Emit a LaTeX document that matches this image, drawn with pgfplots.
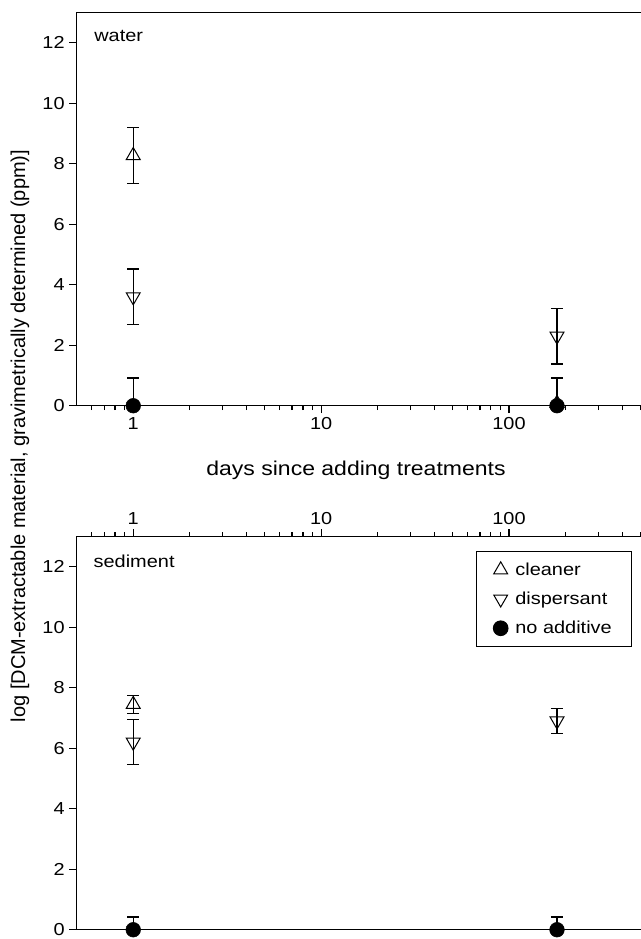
\documentclass[border=0pt]{standalone}
\usepackage{fontspec}
\setmainfont{Liberation Sans}[FakeStretch=1.15]
\newfontfamily\plainsans{Liberation Sans}
\usepackage{pgfplots}
\pgfplotsset{compat=1.18}

\newcommand{\lab}{\fontsize{13pt}{15pt}\selectfont}
\newcommand{\ttl}{\fontsize{15pt}{18pt}\selectfont}

\begin{document}
\begin{tikzpicture}
\useasboundingbox (0,0) rectangle (480pt,-704.25pt);

% water
\begin{axis}[at={(57.5pt,-304.3pt)}, anchor=south west,
  scale only axis, width=465.2pt, height=295pt,
  xmode=log, xmin=0.5, xmax=1000, ymin=0, ymax=13,
  xtick={1,10,100}, xticklabels={1,10,100},
  minor xtick={0.6,0.7,0.8,0.9,2,3,4,5,6,7,8,9,20,30,40,50,60,70,80,90,200,300,400,500,600,700,800,900},
  ytick={0,2,4,6,8,10,12},
  xtick pos=bottom, xticklabel pos=bottom, ytick pos=left,
  tick align=outside, major tick length=5.5pt, minor tick length=3.2pt,
  every tick/.append style={black, line width=0.9pt},
  axis line style={line width=1pt},
  tick label style={font=\lab},
  /pgf/number format/assume math mode=true,
  clip=false]
\addplot[only marks, mark=triangle, mark size=6pt, mark options={line width=0.75pt},
  error bars/.cd, y dir=both, y explicit,
  error bar style={line width=0.9pt},
  error mark options={rotate=90, mark size=4.5pt, line width=0.9pt}]
  coordinates {(1,8.27) +- (0,0.92) (180,0.08) += (0,0.85) -= (0,0)};
\addplot[only marks, mark=triangle, mark size=6pt, mark options={rotate=180, line width=0.75pt},
  error bars/.cd, y dir=both, y explicit,
  error bar style={line width=0.9pt},
  error mark options={rotate=90, mark size=4.5pt, line width=0.9pt}]
  coordinates {(1,3.6) +- (0,0.92) (180,2.3) +- (0,0.92)};
\addplot[only marks, mark=*, mark size=5.5pt, mark options={fill=black},
  error bars/.cd, y dir=plus, y explicit,
  error bar style={line width=0.9pt},
  error mark options={rotate=90, mark size=4.5pt, line width=0.9pt}]
  coordinates {(1,0) +- (0,0.92) (180,0) +- (0,0.90)};
\node[anchor=west, inner sep=0pt, font=\lab] at (rel axis cs:0.028,0.941) {water};
\end{axis}

% sediment
\begin{axis}[at={(57.5pt,-697.3pt)}, anchor=south west,
  scale only axis, width=465.2pt, height=295pt,
  xmode=log, xmin=0.5, xmax=1000, ymin=0, ymax=13,
  xtick={1,10,100}, xticklabels={1,10,100},
  minor xtick={0.6,0.7,0.8,0.9,2,3,4,5,6,7,8,9,20,30,40,50,60,70,80,90,200,300,400,500,600,700,800,900},
  ytick={0,2,4,6,8,10,12},
  xtick pos=top, xticklabel pos=top, ytick pos=left,
  tick align=outside, major tick length=5.5pt, minor tick length=3.2pt,
  every tick/.append style={black, line width=0.9pt},
  axis line style={line width=1pt},
  tick label style={font=\lab},
  /pgf/number format/assume math mode=true,
  clip=false,
  legend cell align=left,
  legend style={at={(0.8947,0.962)}, anchor=north east,
    draw=black, line width=0.75pt, font=\lab,
    inner xsep=12.5pt, inner ysep=6pt, row sep=7pt, column sep=3.5pt}]
\addplot[only marks, mark=triangle, mark size=6pt, mark options={line width=0.75pt},
  error bars/.cd, y dir=both, y explicit,
  error bar style={line width=0.9pt},
  error mark options={rotate=90, mark size=4.5pt, line width=0.9pt}]
  coordinates {(1,7.45) +- (0,0.3)};
\addlegendentry{cleaner}
\addplot[only marks, mark=triangle, mark size=6pt, mark options={rotate=180, line width=0.75pt},
  error bars/.cd, y dir=both, y explicit,
  error bar style={line width=0.9pt},
  error mark options={rotate=90, mark size=4.5pt, line width=0.9pt}]
  coordinates {(1,6.2) +- (0,0.75) (180,6.9) +- (0,0.42)};
\addlegendentry{dispersant}
\addplot[only marks, mark=*, mark size=5.5pt, mark options={fill=black},
  error bars/.cd, y dir=plus, y explicit,
  error bar style={line width=0.9pt},
  error mark options={rotate=90, mark size=4.5pt, line width=0.9pt}]
  coordinates {(1,0) +- (0,0.42) (180,0) +- (0,0.42)};
\addlegendentry{no additive}
\node[anchor=west, inner sep=0pt, font=\lab] at (rel axis cs:0.027,0.9375) {sediment};
\end{axis}

\node[font=\ttl] at (267pt,-352.5pt) {days since adding treatments};
\node[font=\ttl\plainsans, rotate=90] at (15pt,-327pt) {log [DCM-extractable material, gravimetrically determined (ppm)]};
\end{tikzpicture}
\end{document}
